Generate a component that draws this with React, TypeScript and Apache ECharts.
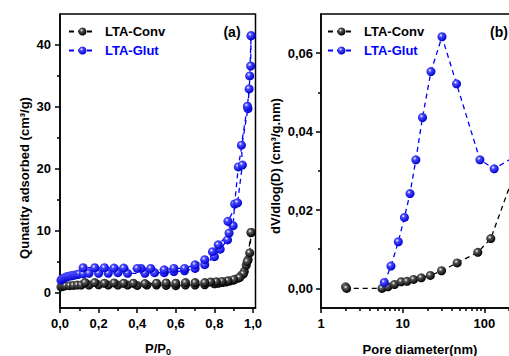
import React, { useEffect, useRef } from "react";
import * as echarts from "echarts";

// ---- Panel (a): N2 isotherms ----
const convAdsP = [0.005,0.01,0.02,0.03,0.05,0.07,0.09,0.11,0.15,0.20,0.25,0.30,0.35,0.40,0.45,0.50,0.55,0.60,0.65,0.70,0.75,0.80,0.82,0.84,0.86,0.88,0.90,0.92,0.94,0.955,0.965,0.975,0.983,0.99];
const convAdsV = [0.9,1.0,1.05,1.1,1.1,1.15,1.2,1.2,1.2,1.25,1.2,1.2,1.2,1.15,1.2,1.2,1.15,1.1,1.2,1.2,1.25,1.4,1.5,1.6,1.7,1.85,2.0,2.3,2.8,3.4,4.4,5.3,6.4,9.7];
const convDesP = [0.99,0.97,0.95,0.93,0.90,0.87,0.84,0.81,0.78,0.75,0.70,0.65,0.60,0.55,0.50,0.44,0.38,0.33,0.28,0.23,0.18,0.13];
const convDesV = [9.7,5.0,3.0,2.4,2.1,1.9,1.8,1.75,1.7,1.6,1.6,1.6,1.5,1.55,1.5,1.45,1.5,1.5,1.55,1.5,1.6,1.6];

const glutAdsP = [0.005,0.01,0.02,0.03,0.04,0.05,0.06,0.07,0.08,0.09,0.10,0.12,0.15,0.20,0.25,0.30,0.35,0.44,0.49,0.54,0.59,0.645,0.70,0.75,0.80,0.83,0.868,0.897,0.905,0.924,0.974,0.983,0.99];
const glutAdsV = [2.0,2.2,2.35,2.5,2.6,2.65,2.7,2.8,2.85,2.9,3.0,3.0,3.1,3.1,3.1,3.2,3.1,3.1,3.2,3.2,3.4,3.5,3.9,4.5,5.8,7.0,8.5,10.8,14.3,20.3,29.7,35.0,41.5];
const glutDesP = [0.99,0.988,0.98,0.971,0.94,0.945,0.92,0.87,0.876,0.82,0.79,0.75,0.70,0.645,0.59,0.54,0.47,0.42,0.40,0.33,0.28,0.23,0.18,0.12];
const glutDesV = [41.5,36.6,32.9,30.1,23.8,20.6,14.5,11.5,9.6,7.7,6.6,5.3,4.47,3.9,3.9,3.66,3.9,3.9,3.9,3.95,3.95,4.0,4.0,4.0];

// ---- Panel (b): pore size distribution ----
const convD = [2.0,2.06,5.58,6.6,7.95,9.6,11.3,13.6,16.9,21.8,29.9,46.5,83.2,120,230];
const convPSD = [0.0004,0.0,0.0,0.0004,0.001,0.0017,0.0018,0.0023,0.0027,0.0033,0.0045,0.0065,0.0092,0.0127,0.029];
const glutD = [5.96,7.19,8.84,10.5,12.3,14.5,17.5,22.2,30.3,45.7,88.3,132,230];
const glutPSD = [0.0015,0.0057,0.0119,0.0181,0.0242,0.0328,0.0436,0.0553,0.0642,0.0522,0.0328,0.0305,0.0335];

// ---- ticks ----
const isoXTicks = [0, 0.2, 0.4, 0.6, 0.8, 1.0];
const isoXMinor = [0.1, 0.3, 0.5, 0.7, 0.9];
const isoYTicks = [0, 10, 20, 30, 40];
const isoYMinor = [5, 15, 25, 35];
const psdXTicks = [1, 10, 100];
const psdYTicks = [0, 0.02, 0.04, 0.06];
const psdYMinor = [0.01, 0.03, 0.05];
const psdXMinor = [2,3,4,5,6,7,8,9,20,30,40,50,60,70,80,90,200,300,400,500,600,700,800,900];

const FONT = "'Liberation Sans', Arial, sans-serif";
const BLUE = "#0000ff";

const ball = (dark: string, mid: string) => ({
  type: "radial", x: 0.38, y: 0.35, r: 0.65,
  colorStops: [
    { offset: 0, color: "#ffffff" },
    { offset: 0.3, color: mid },
    { offset: 1, color: dark },
  ],
});

const zip = (a: number[], b: number[]) => a.map((v, i) => [v, b[i]]);

export default function App() {
  const ref = useRef<HTMLDivElement>(null);
  useEffect(() => {
    const chart = echarts.init(ref.current!, null, { renderer: "svg" });
    const lbl = { fontFamily: FONT, fontWeight: "bold", fontSize: 13, color: "#000" };
    const lineW = { color: "#000", width: 1.5 };
    const mainAxis = (extra: any) => ({
      axisLine: { show: true, onZero: false, lineStyle: lineW },
      axisTick: { show: true, length: 5, lineStyle: lineW },
      splitLine: { show: false },
      ...extra,
    });
    const minorAxis = (extra: any, vals: number[]) => ({
      axisLine: { show: false, onZero: false },
      axisLabel: { show: false },
      axisTick: { show: true, length: 3, lineStyle: lineW, customValues: vals },
      splitLine: { show: false },
      ...extra,
    });
    const blackStyle = {
      symbol: "circle", symbolSize: 9,
      itemStyle: { color: ball("#000000", "#555555") },
      lineStyle: { color: "#000", width: 1.3, type: [5, 4] },
    };
    const blueStyle = {
      symbol: "circle", symbolSize: 9,
      itemStyle: { color: ball("#0000d0", "#4a4aff") },
      lineStyle: { color: BLUE, width: 1.3, type: [5, 4] },
    };
    const legend = (left: number) => ({
      orient: "vertical", left, top: 20, itemWidth: 27, itemHeight: 10, itemGap: 6,
      textStyle: { fontFamily: FONT, fontWeight: "bold", fontSize: 13, padding: [0, 0, 0, 4] },
      data: [
        { name: "LTA-Conv", textStyle: { color: "#000" } },
        { name: "LTA-Glut", textStyle: { color: BLUE } },
      ],
    });
    const option: any = {
      animation: false,
      backgroundColor: "#fff",
      grid: [
        { left: 60, top: 14, right: 253.5, bottom: 48, show: true, borderColor: "#000", borderWidth: 1.5, outerBoundsMode: "none", containLabel: false },
        { left: 321, top: 14, right: -57, bottom: 48, show: true, borderColor: "#000", borderWidth: 1.5, outerBoundsMode: "none", containLabel: false },
      ],
      legend: [legend(63), legend(322)],
      xAxis: [
        mainAxis({
          type: "value", gridIndex: 0, position: "bottom", min: 0, max: 1.013,
          axisTick: { show: true, length: 5, lineStyle: lineW, customValues: isoXTicks },
          axisLabel: { ...lbl, margin: 9, customValues: isoXTicks, formatter: (v: number) => v.toFixed(1).replace(".", ",") },
        }),
        minorAxis({ type: "value", gridIndex: 0, position: "bottom", min: 0, max: 1.013 }, isoXMinor),
        mainAxis({
          type: "log", logBase: 10, gridIndex: 1, position: "bottom", min: 1, max: 1000,
          axisTick: { show: true, length: 5, lineStyle: lineW, customValues: psdXTicks },
          axisLabel: { ...lbl, margin: 9, customValues: psdXTicks, formatter: (v: number) => String(Math.round(v)) },
        }),
        minorAxis({ type: "log", logBase: 10, gridIndex: 1, position: "bottom", min: 1, max: 1000 }, psdXMinor),
      ],
      yAxis: [
        mainAxis({
          type: "value", gridIndex: 0, position: "left", min: -2.5, max: 45,
          axisTick: { show: true, length: 5, lineStyle: lineW, customValues: isoYTicks },
          axisLabel: { ...lbl, margin: 9, customValues: isoYTicks },
        }),
        minorAxis({ type: "value", gridIndex: 0, position: "left", min: -2.5, max: 45 }, isoYMinor),
        mainAxis({
          type: "value", gridIndex: 1, position: "left", min: -0.005, max: 0.07,
          axisTick: { show: true, length: 5, lineStyle: lineW, customValues: psdYTicks },
          axisLabel: { ...lbl, margin: 8, customValues: psdYTicks, formatter: (v: number) => v.toFixed(2).replace(".", ",") },
        }),
        minorAxis({ type: "value", gridIndex: 1, position: "left", min: -0.005, max: 0.07 }, psdYMinor),
      ],
      series: [
        { type: "line", name: "LTA-Conv", xAxisIndex: 0, yAxisIndex: 0, data: zip(convAdsP, convAdsV), ...blackStyle },
        { type: "line", name: "LTA-Conv", xAxisIndex: 0, yAxisIndex: 0, data: zip(convDesP, convDesV), ...blackStyle },
        { type: "line", name: "LTA-Glut", xAxisIndex: 0, yAxisIndex: 0, data: zip(glutAdsP, glutAdsV), ...blueStyle },
        { type: "line", name: "LTA-Glut", xAxisIndex: 0, yAxisIndex: 0, data: zip(glutDesP, glutDesV), ...blueStyle },
        { type: "line", name: "LTA-Conv", xAxisIndex: 2, yAxisIndex: 2, data: zip(convD, convPSD), ...blackStyle },
        { type: "line", name: "LTA-Glut", xAxisIndex: 2, yAxisIndex: 2, data: zip(glutD, glutPSD), ...blueStyle },
      ],
      graphic: [
        { type: "text", x: 232, y: 32, style: { text: "(a)", font: `bold 14px ${FONT}`, fill: "#000", align: "center", verticalAlign: "middle" } },
        { type: "text", x: 499, y: 32, style: { text: "(b)", font: `bold 14px ${FONT}`, fill: "#000", align: "center", verticalAlign: "middle" } },
        {
          type: "text", x: 158, y: 348,
          style: {
            text: "{m|P/P}{s|0}", align: "center", verticalAlign: "middle", fill: "#000",
            rich: {
              m: { fontFamily: FONT, fontWeight: "bold", fontSize: 13, fill: "#000" },
              s: { fontFamily: FONT, fontWeight: "bold", fontSize: 9, fill: "#000", padding: [8, 0, 0, 0] },
            },
          },
        },
        { type: "text", x: 420, y: 349, style: { text: "Pore diameter(nm)", font: `bold 13px ${FONT}`, fill: "#000", align: "center", verticalAlign: "middle" } },
        { type: "text", x: 24, y: 178, rotation: Math.PI / 2, style: { text: "Qunatity adsorbed (cm³/g)", font: `bold 13px ${FONT}`, fill: "#000", align: "center", verticalAlign: "middle" } },
        { type: "text", x: 275, y: 166, rotation: Math.PI / 2, style: { text: "dV/dlog(D) (cm³/g.nm)", font: `bold 13px ${FONT}`, fill: "#000", align: "center", verticalAlign: "middle" } },
      ],
    };
    chart.setOption(option);
    return () => chart.dispose();
  }, []);
  return <div ref={ref} style={{ position: "fixed", left: 0, top: 0, width: 509, height: 356 }} />;
}
